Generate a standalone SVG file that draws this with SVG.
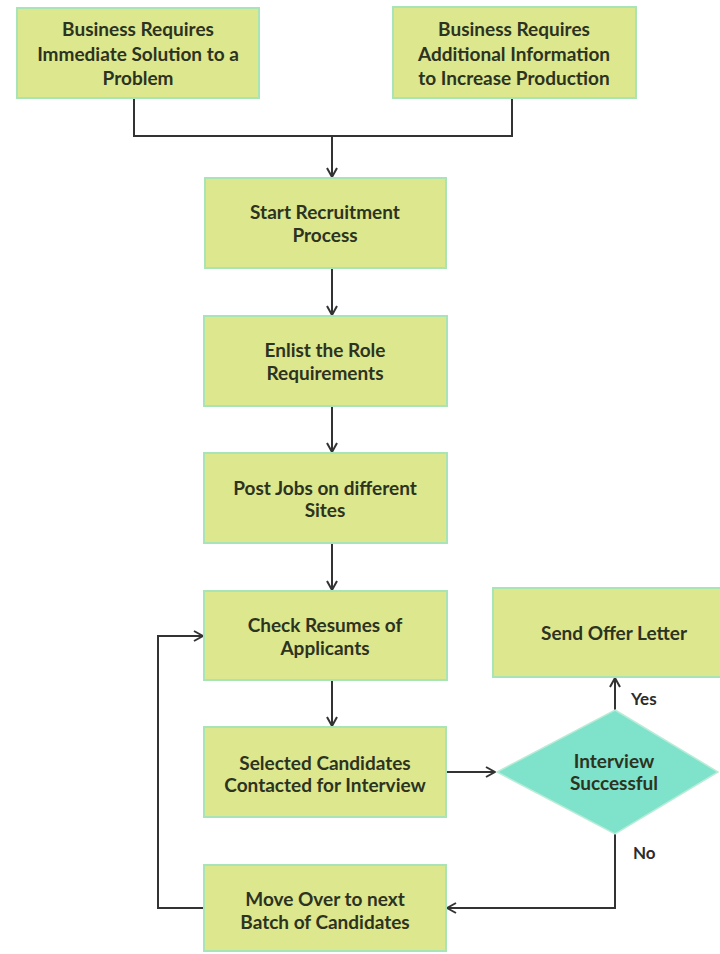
<svg xmlns="http://www.w3.org/2000/svg" width="720" height="954" viewBox="0 0 720 954">
  <defs>
    <style>
      .box { fill: #dde78e; stroke: #a9e4b6; stroke-width: 2; }
      .dia { fill: #7fe2cb; stroke: #b7ecd6; stroke-width: 1.5; }
      .lbl { font-family: Lato, "Open Sans", sans-serif; font-weight: 700; font-size: 19px; fill: #2c3320; text-anchor: middle; }
      .tag { font-family: Lato, "Open Sans", sans-serif; font-weight: 700; font-size: 17px; fill: #2c2c2c; }
      .wire { fill: none; stroke: #333333; stroke-width: 2; }
    </style>
    <marker id="arr" viewBox="0 0 12 12" refX="11" refY="6" markerWidth="12" markerHeight="12" markerUnits="userSpaceOnUse" orient="auto">
      <path d="M2,1 L11,6 L2,11" fill="none" stroke="#333333" stroke-width="2"/>
    </marker>
  </defs>
  <rect width="720" height="954" fill="#ffffff"/>

  <g id="connectors">
    <path class="wire" d="M134,98 V136 H512 V98"/>
    <path class="wire" d="M332,136 V177" marker-end="url(#arr)"/>
    <path class="wire" d="M332,268 V315" marker-end="url(#arr)"/>
    <path class="wire" d="M332,406 V452" marker-end="url(#arr)"/>
    <path class="wire" d="M332,543 V590" marker-end="url(#arr)"/>
    <path class="wire" d="M332,680 V726" marker-end="url(#arr)"/>
    <path class="wire" d="M447,772 H495" marker-end="url(#arr)"/>
    <path class="wire" d="M615,710 V678" marker-end="url(#arr)"/>
    <path class="wire" d="M615,834 V908 H447" marker-end="url(#arr)"/>
    <path class="wire" d="M204,908 H158 V636 H203" marker-end="url(#arr)"/>
  </g>

  <g id="need-solution">
    <rect class="box" x="17" y="8" width="242" height="90"/>
    <text class="lbl" x="138" y="36">Business Requires</text>
    <text class="lbl" x="138" y="61">Immediate Solution to a</text>
    <text class="lbl" x="138" y="85">Problem</text>
  </g>

  <g id="need-information">
    <rect class="box" x="393" y="7" width="243" height="91"/>
    <text class="lbl" x="514" y="36">Business Requires</text>
    <text class="lbl" x="514" y="61">Additional Information</text>
    <text class="lbl" x="514" y="85">to Increase Production</text>
  </g>

  <g id="start-recruitment">
    <rect class="box" x="205" y="178" width="241" height="90"/>
    <text class="lbl" x="325" y="219">Start Recruitment</text>
    <text class="lbl" x="325" y="242">Process</text>
  </g>

  <g id="enlist-role">
    <rect class="box" x="204" y="316" width="243" height="90"/>
    <text class="lbl" x="325" y="357">Enlist the Role</text>
    <text class="lbl" x="325" y="380">Requirements</text>
  </g>

  <g id="post-jobs">
    <rect class="box" x="204" y="453" width="243" height="90"/>
    <text class="lbl" x="325" y="495">Post Jobs on different</text>
    <text class="lbl" x="325" y="517">Sites</text>
  </g>

  <g id="check-resumes">
    <rect class="box" x="204" y="591" width="243" height="89"/>
    <text class="lbl" x="325" y="632">Check Resumes of</text>
    <text class="lbl" x="325" y="655">Applicants</text>
  </g>

  <g id="contact-candidates">
    <rect class="box" x="204" y="727" width="242" height="90"/>
    <text class="lbl" x="325" y="770">Selected Candidates</text>
    <text class="lbl" x="325" y="792">Contacted for Interview</text>
  </g>

  <g id="next-batch">
    <rect class="box" x="204" y="865" width="242" height="86"/>
    <text class="lbl" x="325" y="906">Move Over to next</text>
    <text class="lbl" x="325" y="929">Batch of Candidates</text>
  </g>

  <g id="send-offer">
    <rect class="box" x="493" y="588" width="240" height="89"/>
    <text class="lbl" x="614" y="640">Send Offer Letter</text>
  </g>

  <g id="interview-successful">
    <polygon class="dia" points="615,710 718,772 615,834 497,772"/>
    <text class="lbl" x="614" y="768">Interview</text>
    <text class="lbl" x="614" y="790">Successful</text>
  </g>

  <g id="branch-labels">
    <text class="tag" x="631" y="705">Yes</text>
    <text class="tag" x="633" y="859">No</text>
  </g>
</svg>
